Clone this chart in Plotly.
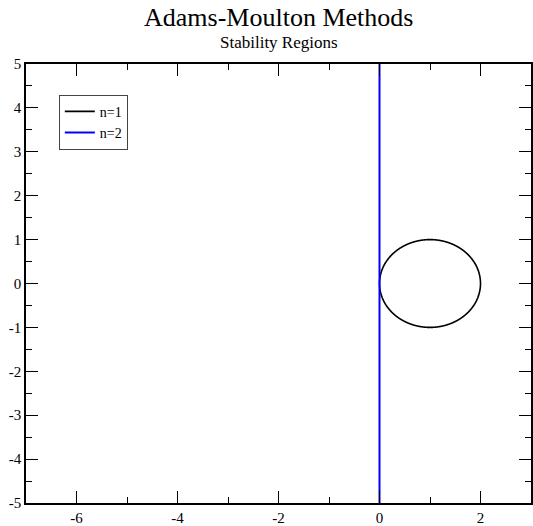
import numpy as np
import plotly.graph_objects as go

# Adams-Moulton methods: characteristic polynomials rho(xi) and sigma(xi),
# coefficients listed from the highest power of xi down.
method_names = ["n=1", "n=2"]
rho_coeffs = [[1, -1], [1, -1]]
sigma_coeffs = [[1, 0], [0.5, 0.5]]
line_colors = ["black", "blue"]
line_widths = [1.6, 2.0]

x_range = [-7, 3]
y_range = [-5, 5]
x_tick_vals = [-6, -4, -2, 0, 2]
x_tick_text = ["-6", "-4", "-2", "0", "2"]
y_tick_vals = [-5, -4, -3, -2, -1, 0, 1, 2, 3, 4, 5]
y_tick_text = ["-5", "-4", "-3", "-2", "-1", "0", "1", "2", "3", "4", "5"]

theta = np.linspace(-np.pi, np.pi, 4001)[1:-1]
xi = np.exp(1j * theta)

fig = go.Figure()
for name, rho, sigma, color, width in zip(method_names, rho_coeffs, sigma_coeffs,
                                          line_colors, line_widths):
    # boundary locus z = rho(xi) / sigma(xi) on the unit circle
    z = np.polyval(rho, xi) / np.polyval(sigma, xi)
    fig.add_trace(go.Scatter(x=z.real, y=z.imag, mode="lines", name=name,
                             line=dict(color=color, width=width, simplify=False)))

serif = "Liberation Serif"
axis_common = dict(
    showgrid=False, zeroline=False, showline=True, linecolor="black",
    linewidth=1.5, mirror="ticks", ticks="inside", ticklen=12,
    tickwidth=1, tickcolor="black", tickmode="array",
    tickfont=dict(family=serif, size=15, color="black"),
)
fig.update_xaxes(range=x_range, tickvals=x_tick_vals, ticktext=x_tick_text,
                 minor=dict(ticks="inside", ticklen=6, dtick=1, tick0=0,
                            tickcolor="black", tickwidth=1),
                 **axis_common)
fig.update_yaxes(range=y_range, tickvals=y_tick_vals, ticktext=y_tick_text,
                 minor=dict(ticks="inside", ticklen=6, dtick=0.5, tick0=0,
                            tickcolor="black", tickwidth=1),
                 **axis_common)

fig.update_layout(
    width=533, height=526,
    margin=dict(l=26, r=0, t=64, b=20),
    paper_bgcolor="white", plot_bgcolor="white",
    showlegend=True,
    legend=dict(x=0.065, y=0.93, xanchor="left", yanchor="top",
                bgcolor="white", bordercolor="#444", borderwidth=1,
                font=dict(family=serif, size=14, color="black"),
                tracegroupgap=0, itemwidth=30),
    annotations=[
        dict(text="Adams-Moulton Methods", xref="paper", yref="paper",
             x=0.5, y=1, yshift=47, showarrow=False, xanchor="center",
             yanchor="middle", font=dict(family=serif, size=26, color="black")),
        dict(text="Stability Regions", xref="paper", yref="paper",
             x=0.5, y=1, yshift=22, showarrow=False, xanchor="center",
             yanchor="middle", font=dict(family=serif, size=17, color="black")),
    ],
)

fig.write_html("out.html")
